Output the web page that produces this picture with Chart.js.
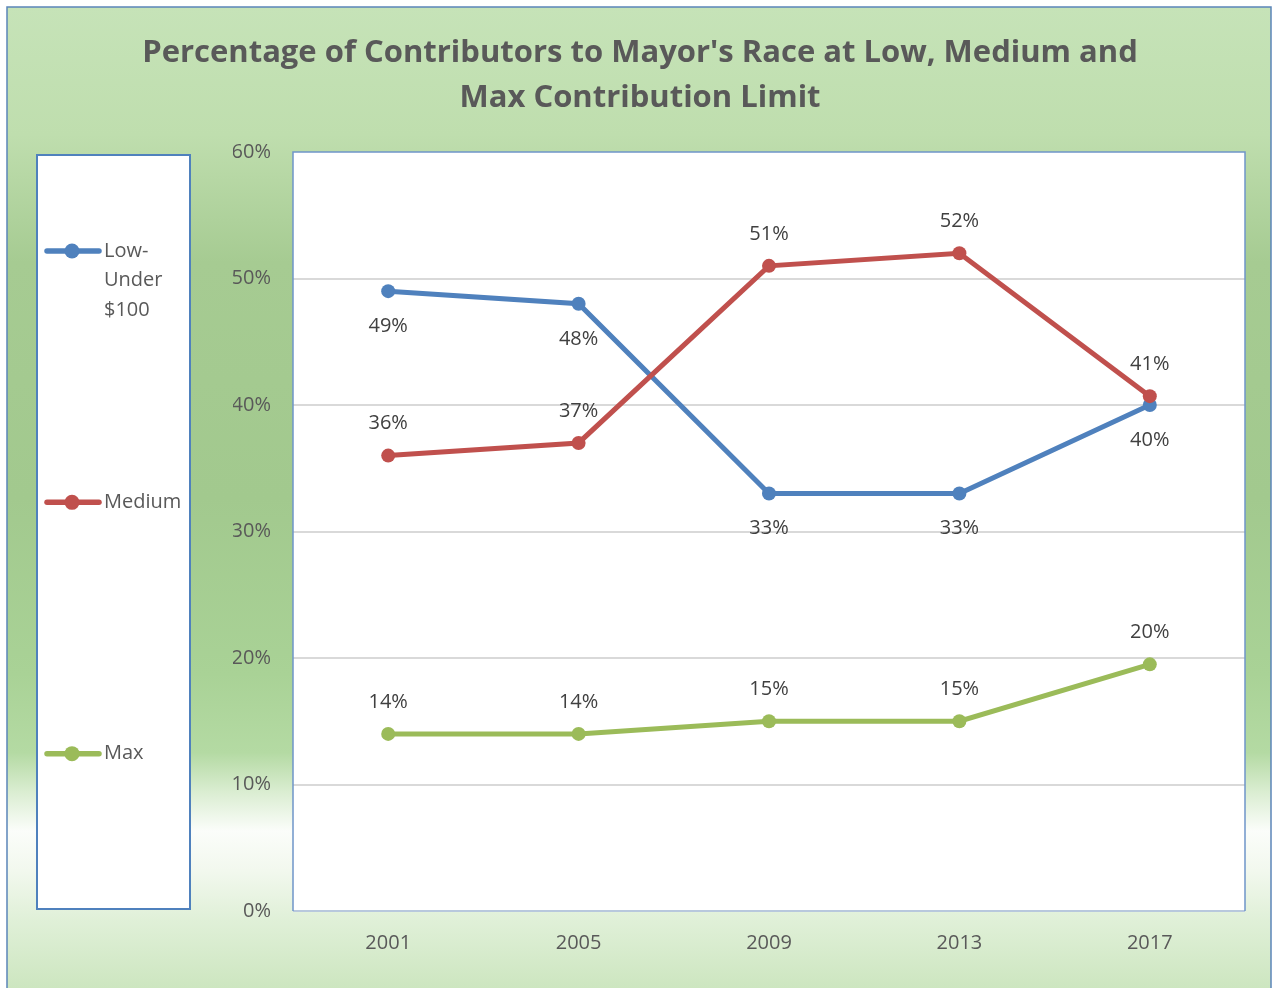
<!DOCTYPE html>
<html>
<head>
<meta charset="utf-8">
<script src="https://cdn.jsdelivr.net/npm/chart.js@4.4.1/dist/chart.umd.min.js"></script>
<style>
  html, body { margin: 0; padding: 0; background: #fff; }
  #wrap { width: 1274px; height: 988px; }
</style>
</head>
<body>
<div id="wrap"><canvas id="chart" width="1274" height="988"></canvas></div>
<script>
// ================= dados =================
const years = ["2001", "2005", "2009", "2013", "2017"];
const lowValues = [49, 48, 33, 33, 40];
const mediumValues = [36, 37, 51, 52, 40.7];
const maxValues = [14, 14, 15, 15, 19.5];
const lowLabels = ["49%", "48%", "33%", "33%", "40%"];
const mediumLabels = ["36%", "37%", "51%", "52%", "41%"];
const maxLabels = ["14%", "14%", "15%", "15%", "20%"];
const yTicks = [0, 10, 20, 30, 40, 50, 60];
const titleLines = ["Percentage of Contributors to Mayor's Race at Low, Medium and", "Max Contribution Limit"];

const BLUE = "#4f81bd", RED = "#c0504d", GREEN = "#9bbb59";
const TEXT = "#595959";
const FONT = "'Open Sans', 'DejaVu Sans', sans-serif";

// ================= fundo, título, área do gráfico =================
const backdrop = {
  id: "backdrop",
  beforeDraw(chart) {
    const { ctx, width, height, chartArea: a } = chart;
    ctx.save();
    ctx.fillStyle = "#fff";
    ctx.fillRect(0, 0, width, height);
    const g = ctx.createLinearGradient(0, 7, 0, height);
    g.addColorStop(0.00, "#c6e3b8");
    g.addColorStop(0.13, "#bfdeae");
    g.addColorStop(0.26, "#a6cb92");
    g.addColorStop(0.50, "#a2c98e");
    g.addColorStop(0.68, "#a9d296");
    g.addColorStop(0.76, "#b4daa3");
    g.addColorStop(0.80, "#daedd1");
    g.addColorStop(0.84, "#fbfdfa");
    g.addColorStop(0.88, "#f2f8ee");
    g.addColorStop(0.93, "#e0f0d8");
    g.addColorStop(1.00, "#cde6c0");
    ctx.fillStyle = g;
    ctx.fillRect(7, 7, 1264, height);
    ctx.strokeStyle = "#5b85b9";
    ctx.lineWidth = 1.5;
    ctx.strokeRect(7, 7, 1264, height + 10);

    // titulo
    ctx.fillStyle = TEXT;
    ctx.font = "bold 31px " + FONT;
    ctx.textAlign = "center";
    ctx.textBaseline = "middle";
    titleLines.forEach((t, i) => ctx.fillText(t, 640, 53 + i * 45));

    // area branca
    ctx.fillStyle = "#fff";
    ctx.fillRect(a.left, a.top, a.right - a.left, a.bottom - a.top);
    ctx.restore();
  },
  afterDatasetsDraw(chart) {
    const { ctx, chartArea: a } = chart;
    ctx.save();
    // borda da area
    ctx.strokeStyle = "#b8c8dd";
    ctx.lineWidth = 2;
    ctx.beginPath();
    ctx.moveTo(a.left, a.bottom);
    ctx.lineTo(a.right, a.bottom);
    ctx.stroke();
    ctx.strokeStyle = "#6f95c9";
    ctx.lineWidth = 1.5;
    ctx.beginPath();
    ctx.moveTo(a.left, a.bottom);
    ctx.lineTo(a.left, a.top);
    ctx.lineTo(a.right, a.top);
    ctx.lineTo(a.right, a.bottom);
    ctx.stroke();

    // rotulos de dados
    ctx.fillStyle = "#404040";
    ctx.font = "20px " + FONT;
    ctx.textAlign = "center";
    ctx.textBaseline = "middle";
    chart.data.datasets.forEach((ds, i) => {
      const meta = chart.getDatasetMeta(i);
      meta.data.forEach((pt, j) => {
        const dy = ds.labelPos === "below" ? 35 : -32;
        ctx.fillText(ds.valueLabels[j], pt.x, pt.y + dy);
      });
    });
    ctx.restore();
  }
};

// ================= legenda =================
function wrapLabel(ctx, text, maxW) {
  const parts = text.replace(/-/g, "- ").split(" ").filter(s => s);
  const lines = [];
  let cur = "";
  parts.forEach(p => {
    const sep = cur && !cur.endsWith("-") ? " " : "";
    const test = cur + sep + p;
    if (cur && ctx.measureText(test).width > maxW) {
      lines.push(cur);
      cur = p;
    } else cur = test;
  });
  if (cur) lines.push(cur);
  return lines;
}

const sideLegend = {
  id: "sideLegend",
  afterDraw(chart) {
    const { ctx } = chart;
    const box = { x: 37, y: 155, w: 153, h: 754 };
    ctx.save();
    ctx.fillStyle = "#fff";
    ctx.fillRect(box.x, box.y, box.w, box.h);
    ctx.strokeStyle = "#4f81bd";
    ctx.lineWidth = 2;
    ctx.strokeRect(box.x, box.y, box.w, box.h);
    ctx.font = "20px " + FONT;
    ctx.textAlign = "left";
    ctx.textBaseline = "middle";
    const slot = box.h / chart.data.datasets.length;
    chart.data.datasets.forEach((ds, i) => {
      const y = box.y + 96 + i * slot;
      ctx.strokeStyle = ds.borderColor;
      ctx.lineWidth = 5.5;
      ctx.lineCap = "round";
      ctx.beginPath();
      ctx.moveTo(47, y);
      ctx.lineTo(99, y);
      ctx.stroke();
      ctx.fillStyle = ds.borderColor;
      ctx.beginPath();
      ctx.arc(72, y, 7.5, 0, Math.PI * 2);
      ctx.fill();
      ctx.fillStyle = TEXT;
      wrapLabel(ctx, ds.label, 86).forEach((ln, k) => ctx.fillText(ln, 104, y + k * 29.5));
    });
    ctx.restore();
  }
};

function series(label, data, color, valueLabels, labelPos, order) {
  return {
    label, data, valueLabels, labelPos, order,
    borderColor: color,
    backgroundColor: color,
    borderWidth: 5,
    pointRadius: 7,
    pointHoverRadius: 7,
    pointBorderWidth: 0,
    tension: 0
  };
}

new Chart(document.getElementById("chart"), {
  type: "line",
  data: {
    labels: years,
    datasets: [
      series("Low-Under $100", lowValues, BLUE, lowLabels, "below", 1),
      series("Medium", mediumValues, RED, mediumLabels, "above", 0),
      series("Max", maxValues, GREEN, maxLabels, "above", 2)
    ]
  },
  options: {
    responsive: false,
    animation: false,
    layout: { padding: { left: 233, top: 152, right: 29, bottom: 0 } },
    plugins: {
      legend: { display: false },
      title: { display: false },
      tooltip: { enabled: false }
    },
    scales: {
      x: {
        offset: true,
        grid: { display: false, drawTicks: false },
        border: { display: false },
        ticks: { color: TEXT, font: { family: FONT, size: 20 }, padding: 20 },
        afterFit(s) { s.height = 77; }
      },
      y: {
        min: 0,
        max: 60,
        afterBuildTicks(s) { s.ticks = yTicks.map(v => ({ value: v })); },
        grid: {
          drawTicks: false,
          lineWidth: 2,
          color: c => (c.tick.value === 0 || c.tick.value === 60) ? "rgba(0,0,0,0)" : "#d9d9d9"
        },
        border: { display: false },
        ticks: {
          color: TEXT,
          font: { family: FONT, size: 20 },
          padding: 22,
          callback: v => v + "%"
        },
        afterFit(s) { s.width = 60; }
      }
    }
  },
  plugins: [backdrop, sideLegend]
});
</script>
</body>
</html>
